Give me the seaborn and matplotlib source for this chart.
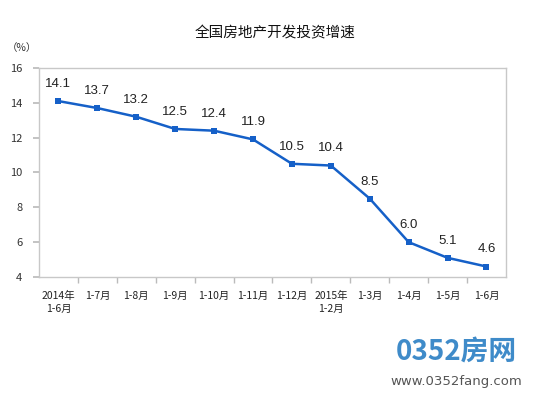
import matplotlib.pyplot as plt
import numpy as np
import pandas as pd
import seaborn as sns

periods = ["2014年\n1-6月", "1-7月", "1-8月", "1-9月", "1-10月", "1-11月",
           "1-12月", "2015年\n1-2月", "1-3月", "1-4月", "1-5月", "1-6月"]
growth = [14.1, 13.7, 13.2, 12.5, 12.4, 11.9, 10.5, 10.4, 8.5, 6.0, 5.1, 4.6]
y_ticks = [4, 6, 8, 10, 12, 14, 16]

df = pd.DataFrame({"idx": np.arange(len(periods)), "growth": growth})

sns.set_theme(style="white")
plt.rcParams["font.family"] = ["Noto Sans CJK SC", "DejaVu Sans"]

fig = plt.figure(figsize=(5.5, 3.97), dpi=100)
ax = fig.add_axes([0.0709, 0.3023, 0.849, 0.5264])

line_color = "#1560c8"
sns.lineplot(data=df, x="idx", y="growth", color=line_color, marker="s",
             markersize=5, markeredgewidth=0, linewidth=1.8, ax=ax)

for i, v in enumerate(growth):
    ax.annotate(f"{v:.1f}", (i, v), xytext=(0, 8), textcoords="offset points",
                ha="center", va="bottom", fontsize=9.5, color="#222222",
                family=["Liberation Sans", "DejaVu Sans"])

ax.set_xlim(-0.5, len(periods) - 0.5)
ax.set_ylim(4, 16)
ax.set_yticks(y_ticks)
ax.set_yticklabels([str(t) for t in y_ticks], fontsize=8, color="#333333")
ax.set_xticks(range(len(periods)))
ax.set_xticklabels(periods, fontsize=7.5, color="#222222", linespacing=1.4)
ax.set_xticks(np.arange(0.5, len(periods) - 1, 1), minor=True)
ax.tick_params(axis="x", which="major", length=0, pad=10)
ax.tick_params(axis="x", which="minor", length=4, color="#bbbbbb", direction="out", bottom=True)
ax.tick_params(axis="y", length=4, color="#bbbbbb", direction="out", left=True, pad=8)
ax.set_xlabel("")
ax.set_ylabel("")
for s in ax.spines.values():
    s.set_color("#c8c8c8")
    s.set_linewidth(1)

fig.text(0.5, 0.915, "全国房地产开发投资增速", ha="center", va="center", fontsize=10.5, color="#111111")
fig.text(0.04, 0.88, "（%）", ha="center", va="center", fontsize=7.5, color="#333333")

# watermark
fig.text(0.83, 0.115, "0352房网", ha="center", va="center", fontsize=20,
         color="#2a7fc4", fontweight="bold", alpha=0.9)
fig.text(0.83, 0.04, "www.0352fang.com", ha="center", va="center", fontsize=9.5,
         color="#555555", family=["DejaVu Sans"])

fig.savefig("out.png", dpi=100)
